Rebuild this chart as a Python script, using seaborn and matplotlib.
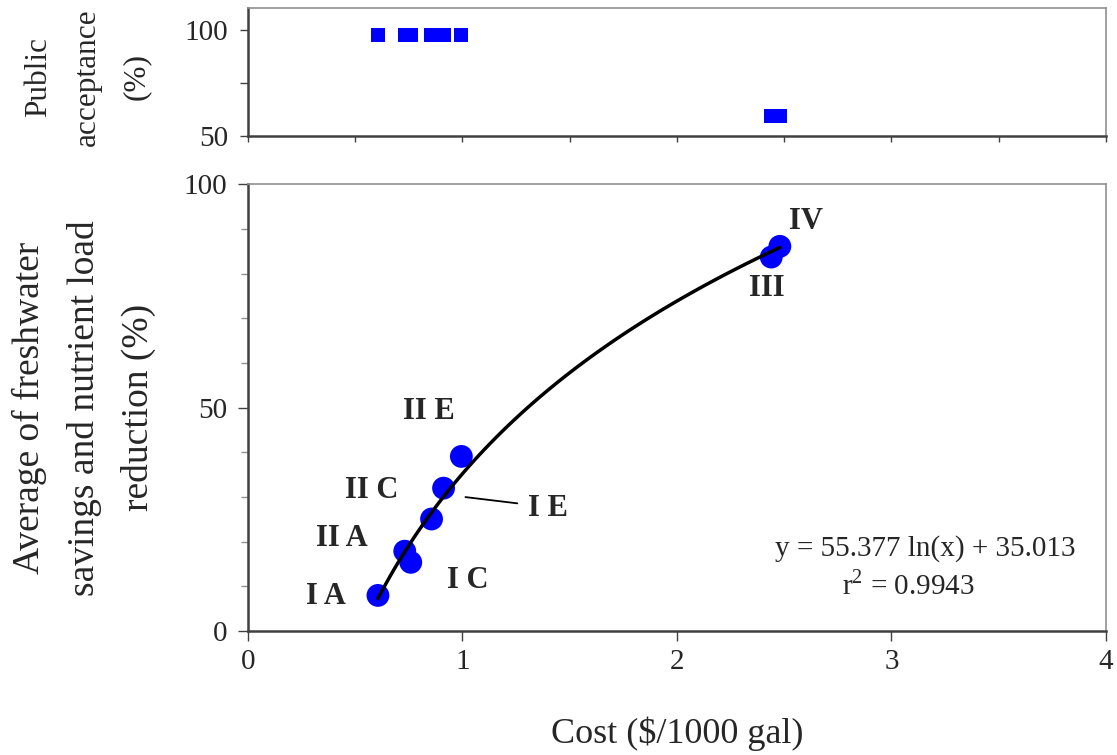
import numpy as np
import pandas as pd
import matplotlib
matplotlib.use("Agg")
import matplotlib.pyplot as plt
from matplotlib.ticker import MultipleLocator
import seaborn as sns

sns.set_theme(style="white")
plt.rcParams['font.family'] = ['Liberation Serif', 'DejaVu Serif']
plt.rcParams['mathtext.fontset'] = 'custom'
plt.rcParams['mathtext.rm'] = 'Liberation Serif'

# Data
labels = ["I A", "II A", "I C", "II C", "I E", "II E", "III", "IV"]
cost = [0.606, 0.731, 0.759, 0.856, 0.912, 0.995, 2.44, 2.48]
reduction = [8.0, 17.9, 15.4, 25.1, 32.0, 39.1, 83.7, 86.1]
acceptance = [97.5, 97.5, 97.5, 97.5, 97.5, 97.5, 59.2, 59.2]

df = pd.DataFrame({"cost": cost, "reduction": reduction, "acceptance": acceptance})

DARK = "#404040"
GRAY = "#909090"

fig = plt.figure(figsize=(11.17, 7.55), dpi=100)
ax_top = fig.add_axes([0.222, 0.820, 0.768, 0.170])
ax = fig.add_axes([0.222, 0.164, 0.768, 0.592])

# Top panel
sns.scatterplot(data=df, x="cost", y="acceptance", ax=ax_top, marker="s",
                color="#0000ff", s=105, edgecolor="none", linewidth=0)
ax_top.set_xlim(0, 4)
ax_top.set_ylim(50, 110.4)
ax_top.set_xticks(np.arange(0, 4.01, 0.5))
ax_top.set_xticklabels([])
ax_top.set_yticks([50, 75, 100])
ax_top.set_yticklabels(["50", "", "100"])
ax_top.set_xlabel("")
ax_top.set_ylabel("Public\nacceptance\n(%)", fontsize=22.5, linespacing=1.9)
ax_top.yaxis.set_label_coords(-0.113, 0.46)
for s in ["top", "right"]:
    ax_top.spines[s].set_color(GRAY)
    ax_top.spines[s].set_linewidth(1.2)
for s in ["left", "bottom"]:
    ax_top.spines[s].set_color(DARK)
    ax_top.spines[s].set_linewidth(1.8)
ax_top.tick_params(axis="y", direction="out", length=6, width=1, color=DARK,
                   labelsize=21, pad=8, left=True)
ax_top.tick_params(axis="x", direction="out", length=4, width=1, color=DARK,
                   bottom=True)

# Bottom panel
sns.regplot(data=df, x="cost", y="reduction", ax=ax, logx=True, ci=None,
            truncate=True,
            scatter_kws=dict(s=270, color="#0000ff", edgecolor="none", alpha=1, zorder=2),
            line_kws=dict(color="black", linewidth=2.5, zorder=3))
ax.set_xlim(0, 4)
ax.set_ylim(0, 100)
ax.set_xticks([0, 1, 2, 3, 4])
ax.set_yticks([0, 50, 100])
ax.yaxis.set_minor_locator(MultipleLocator(10))
ax.set_xlabel("Cost ($/1000 gal)", fontsize=26)
ax.xaxis.set_label_coords(0.5, -0.19)
ax.set_ylabel("Average of freshwater\nsavings and nutrient load\nreduction (%)",
              fontsize=27, linespacing=1.72)
ax.yaxis.set_label_coords(-0.107, 0.5)
for s in ["top", "right"]:
    ax.spines[s].set_color(GRAY)
    ax.spines[s].set_linewidth(1.2)
for s in ["left", "bottom"]:
    ax.spines[s].set_color(DARK)
    ax.spines[s].set_linewidth(1.8)
ax.tick_params(axis="both", which="major", direction="out", length=7, width=1, color=DARK,
               labelsize=21, pad=6, left=True, bottom=True)
ax.tick_params(axis="y", which="major", pad=8)
ax.tick_params(axis="y", which="minor", direction="out", length=5, width=1, color=GRAY,
               left=True)

# Point labels
label_pos = {
    "IV": (2.60, 91.7), "III": (2.42, 76.7), "II E": (0.842, 49.2),
    "II C": (0.577, 31.5), "II A": (0.437, 20.8), "I A": (0.365, 7.8),
    "I C": (1.023, 11.4), "I E": (1.40, 27.5),
}
for lab in labels:
    x, y = label_pos[lab]
    ax.text(x, y, lab, fontsize=22, fontweight="bold", ha="center", va="center")
ax.plot([1.014, 1.256], [30.0, 28.6], color="black", linewidth=1.3)

ax.text(3.16, 18.6, "y = 55.377 ln(x) + 35.013", fontsize=21, ha="center", va="center")
ax.text(3.08, 10.3, r"r$^{2}$ = 0.9943", fontsize=21, ha="center", va="center")

fig.savefig("out.png", dpi=100)
